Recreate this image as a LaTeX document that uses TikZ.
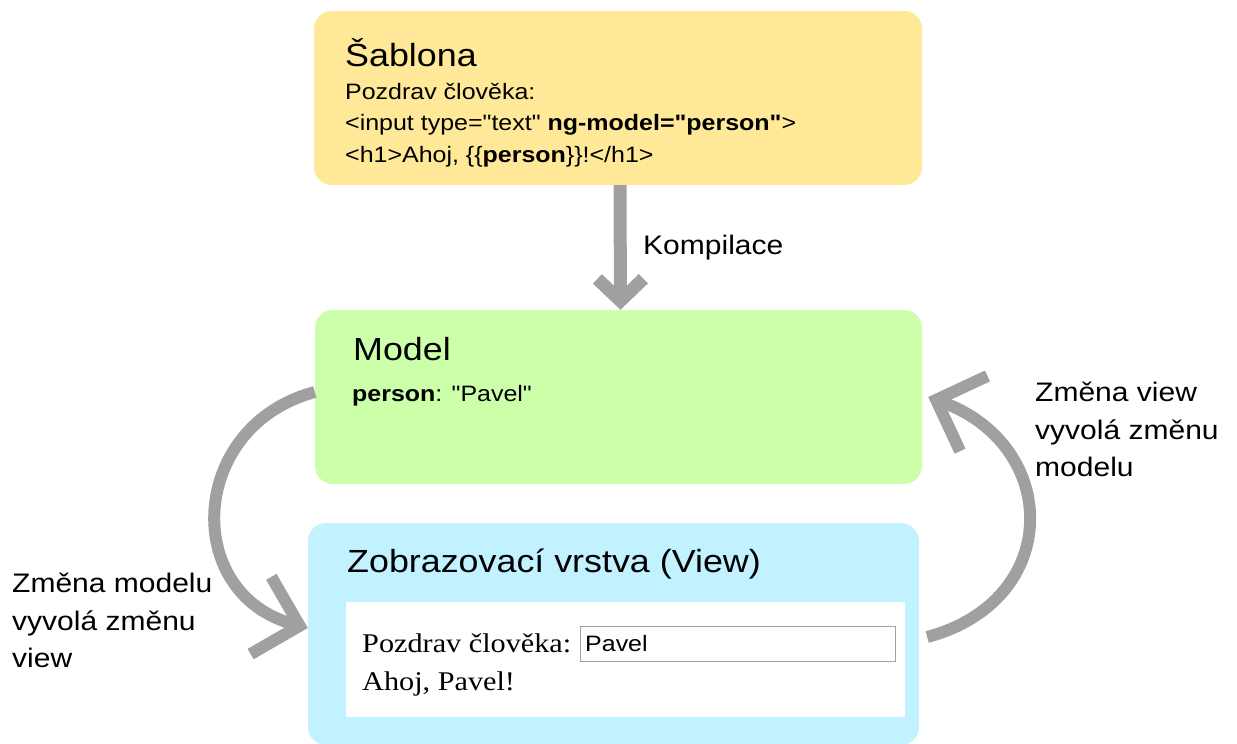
\documentclass[tikz,border=0pt]{standalone}
\usepackage{fontspec}
\setmainfont{Liberation Sans}[FakeStretch=1.12, Ligatures=TeXOff]
\newfontfamily\htmlserif{Liberation Serif}[FakeStretch=1.12]
\usetikzlibrary{arrows.meta}
\definecolor{tplyellow}{HTML}{FFE897}
\definecolor{modelgreen}{HTML}{CCFFAA}
\definecolor{viewblue}{HTML}{C2F1FF}
\definecolor{flowgray}{HTML}{A0A0A0}
\begin{document}
\begin{tikzpicture}[x=1pt,y=-1pt,
  panel/.style={rectangle, rounded corners=18pt, inner sep=0pt, draw=none},
  txt/.style={anchor=base west, inner sep=0pt},
  title/.style={txt, font=\fontsize{32}{38}\selectfont},
  body/.style={txt, font=\fontsize{22.3}{26}\selectfont},
  sidelabel/.style={txt, font=\fontsize{26.8}{31}\selectfont},
  htmltext/.style={txt, font=\htmlserif\fontsize{27}{31}\selectfont},
  flow/.style={draw=flowgray, line width=12pt,
    -{Straight Barb[length=40pt,width=80pt,sharp]}},
  compile/.style={draw=flowgray, line width=13pt,
    -{Straight Barb[length=22pt,width=46pt,sharp]}},
]
\useasboundingbox (0,0) rectangle (1237,744);

% the three layers
\node[panel, fill=tplyellow, minimum width=608pt, minimum height=174pt] (sab) at (618,98) {};
\node[panel, fill=modelgreen, minimum width=607pt, minimum height=174pt] (model) at (618.5,397) {};
\node[panel, fill=viewblue, minimum width=611pt, minimum height=222pt] (view) at (613.5,634) {};

% template
\node[title] (sabtitle) at (345,66) {Šablona};
\node[body] (sab1) at (345,99) {Pozdrav člověka:};
\node[body] (sab2) at (345,130) {<input type="text" \textbf{ng-model="person"}>};
\node[body] (sab3) at (345,162) {<h1>Ahoj, \{\{\textbf{person}\}\}!</h1>};

% model
\node[title] (modeltitle) at (353,360) {Model};
\node[body] (model1) at (352,401) {\textbf{person}: "Pavel"};

% view with rendered page
\node[title] (viewtitle) at (347,572) {Zobrazovací vrstva (View)};
\node[rectangle, fill=white, inner sep=0pt, minimum width=559pt, minimum height=115pt] (page) at (625.5,659.5) {};
\node[rectangle, fill=white, draw=flowgray, line width=1pt, inner sep=0pt, minimum width=315pt, minimum height=35pt] (input) at (737.5,643.5) {};
\node[htmltext] (page1) at (362,652) {Pozdrav člověka:};
\node[body] (inputval) at (585,651) {Pavel};
\node[htmltext] (page2) at (362,690) {Ahoj, Pavel!};

% side labels
\node[sidelabel] (compilelbl) at (643,254) {Kompilace};
\node[sidelabel] (left1) at (12,592) {Změna modelu};
\node[sidelabel] (left2) at (12,630) {vyvolá změnu};
\node[sidelabel] (left3) at (12,667) {view};
\node[sidelabel] (right1) at (1035,401) {Změna view};
\node[sidelabel] (right2) at (1035,439) {vyvolá změnu};
\node[sidelabel] (right3) at (1035,476) {modelu};

% data flow
\draw[compile] ([xshift=2pt]sab.south) -- ([xshift=2pt]model.north);
\draw[flow] ([yshift=5pt]model.west) to[out=195, in=165, looseness=1.42] ([yshift=6pt]view.west);
\draw[flow] ([xshift=8pt,yshift=-3pt]view.east) to[out=15, in=-20, looseness=1.5] ([xshift=6pt]model.east);
\end{tikzpicture}
\end{document}
